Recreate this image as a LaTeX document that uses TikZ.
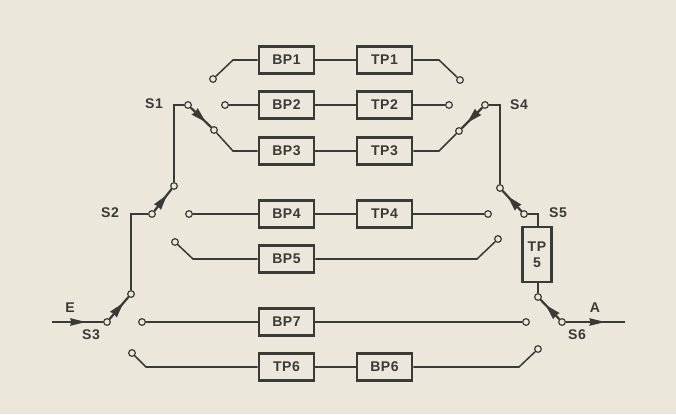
\documentclass[tikz,border=0pt]{standalone}
\usepackage{fontspec}
\setmainfont[LetterSpace=4]{Liberation Sans}
\usetikzlibrary{arrows.meta,decorations.markings}
\definecolor{paper}{HTML}{EBE7DB}
\definecolor{ink}{HTML}{3A3A38}

\begin{document}
\begin{tikzpicture}[
  x=0.03cm, y=-0.03cm,
  box/.style={rectangle, draw=ink, line width=2.1pt, fill=paper, minimum height=0.81cm, minimum width=1.66cm, inner sep=0pt, align=center, text=ink, font=\fontsize{12}{13.5}\selectfont\bfseries},
  lbl/.style={text=ink, inner sep=0pt, font=\fontsize{12}{13.5}\selectfont\bfseries},
  contact/.style={circle, draw=ink, line width=1pt, fill=paper, minimum size=0.2cm, inner sep=0pt},
  wire/.style={draw=ink, line width=1.3pt},
  arm/.style={wire, line width=1.9pt, postaction={decorate}, decoration={markings, mark=at position 0.74 with {\arrow{Stealth[length=0.46cm, width=0.25cm, inset=0.02cm]}}}},
  flow/.style={wire, postaction={decorate}, decoration={markings, mark=at position 0.66 with {\arrow{Stealth[length=0.46cm, width=0.22cm, inset=0.02cm]}}}}
]
\fill[paper] (0,0) rectangle (676,414);
\useasboundingbox (0,0) rectangle (676,414);

% Filter boxes
\node[box] (bp1) at (286.5,60) {BP1};
\node[box] (tp1) at (384.5,60) {TP1};
\node[box] (bp2) at (286.5,105) {BP2};
\node[box] (tp2) at (384.5,105) {TP2};
\node[box] (bp3) at (286.5,151) {BP3};
\node[box] (tp3) at (384.5,151) {TP3};
\node[box] (bp4) at (286.5,214) {BP4};
\node[box] (tp4) at (384.5,214) {TP4};
\node[box] (bp5) at (286.5,259) {BP5};
\node[box] (bp7) at (286.5,322) {BP7};
\node[box] (tp6) at (286.5,367) {TP6};
\node[box] (bp6) at (384.5,367) {BP6};
\node[box, minimum width=0.87cm, minimum height=1.65cm] (tp5) at (537,254.5) {TP\\5};

% Contacts, left side
\node[contact] (c_bp1) at (213,79) {};
\node[contact] (c_bp2) at (225,105) {};
\node[contact] (c_bp3) at (214,130) {};
\node[contact] (c_s1) at (188,105) {};
\node[contact] (c_s2up) at (174,186) {};
\node[contact] (c_s2) at (152,214) {};
\node[contact] (c_bp4) at (189,214) {};
\node[contact] (c_bp5) at (175,242) {};
\node[contact] (c_s3up) at (131,294) {};
\node[contact] (c_s3) at (107,322) {};
\node[contact] (c_bp7) at (142,322) {};
\node[contact] (c_tp6) at (132,353) {};

% Contacts, right side
\node[contact] (c_tp1) at (460,80) {};
\node[contact] (c_tp2) at (449,105) {};
\node[contact] (c_tp3) at (459,131) {};
\node[contact] (c_s4) at (485,105) {};
\node[contact] (c_s5up) at (500,188) {};
\node[contact] (c_s5) at (524,214) {};
\node[contact] (c_tp4) at (488,214) {};
\node[contact] (c_bp5r) at (498,239) {};
\node[contact] (c_s6up) at (538,297) {};
\node[contact] (c_s6) at (562,322) {};
\node[contact] (c_bp7r) at (526,322) {};
\node[contact] (c_bp6) at (538,349) {};

% Free ends and knees
\coordinate (in) at (52,322);
\coordinate (out) at (625,322);
\coordinate (k_bp1) at (233,60);
\coordinate (k_bp3) at (233,151);
\coordinate (k_bp5) at (193,259);
\coordinate (k_tp6) at (146,367);
\coordinate (k_tp1) at (439,60);
\coordinate (k_tp3) at (439,151);
\coordinate (k_bp5r) at (477,259);
\coordinate (k_bp6) at (519,367);

% Branches
\draw[wire] (c_bp1) -- (k_bp1) -- (bp1);
\draw[wire] (bp1) -- (tp1);
\draw[wire] (tp1) -- (k_tp1) -- (c_tp1);
\draw[wire] (c_bp2) -- (bp2);
\draw[wire] (bp2) -- (tp2);
\draw[wire] (tp2) -- (c_tp2);
\draw[wire] (c_bp3) -- (k_bp3) -- (bp3);
\draw[wire] (bp3) -- (tp3);
\draw[wire] (tp3) -- (k_tp3) -- (c_tp3);
\draw[wire] (c_bp4) -- (bp4);
\draw[wire] (bp4) -- (tp4);
\draw[wire] (tp4) -- (c_tp4);
\draw[wire] (c_bp5) -- (k_bp5) -- (bp5);
\draw[wire] (bp5) -- (k_bp5r) -- (c_bp5r);
\draw[wire] (c_bp7) -- (bp7);
\draw[wire] (bp7) -- (c_bp7r);
\draw[wire] (c_tp6) -- (k_tp6) -- (tp6);
\draw[wire] (tp6) -- (bp6);
\draw[wire] (bp6) -- (k_bp6) -- (c_bp6);

% Switch links
\draw[wire] (c_s1) -| (c_s2up);
\draw[wire] (c_s2) -| (c_s3up);
\draw[wire] (c_s4) -| (c_s5up);
\draw[wire] (c_s5) -| (tp5.north -| c_s6up);
\draw[wire] (tp5.south -| c_s6up) -- (c_s6up);

% Switch arms
\draw[arm] (c_s1) -- (c_bp3);
\draw[arm] (c_s2) -- (c_s2up);
\draw[arm] (c_s3) -- (c_s3up);
\draw[arm] (c_s4) -- (c_tp3);
\draw[arm] (c_s5) -- (c_s5up);
\draw[arm] (c_s6) -- (c_s6up);

% Input and output
\draw[flow] (in) -- (c_s3);
\draw[flow] (c_s6) -- (out);

% Labels
\node[lbl] (l_s1) at (154,104) {S1};
\node[lbl] (l_s2) at (110,213) {S2};
\node[lbl] (l_s3) at (91,335) {S3};
\node[lbl] (l_s4) at (519,105) {S4};
\node[lbl] (l_s5) at (558,213) {S5};
\node[lbl] (l_s6) at (577,335) {S6};
\node[lbl] (l_e) at (70,308) {E};
\node[lbl] (l_a) at (595,308) {A};

\end{tikzpicture}
\end{document}
